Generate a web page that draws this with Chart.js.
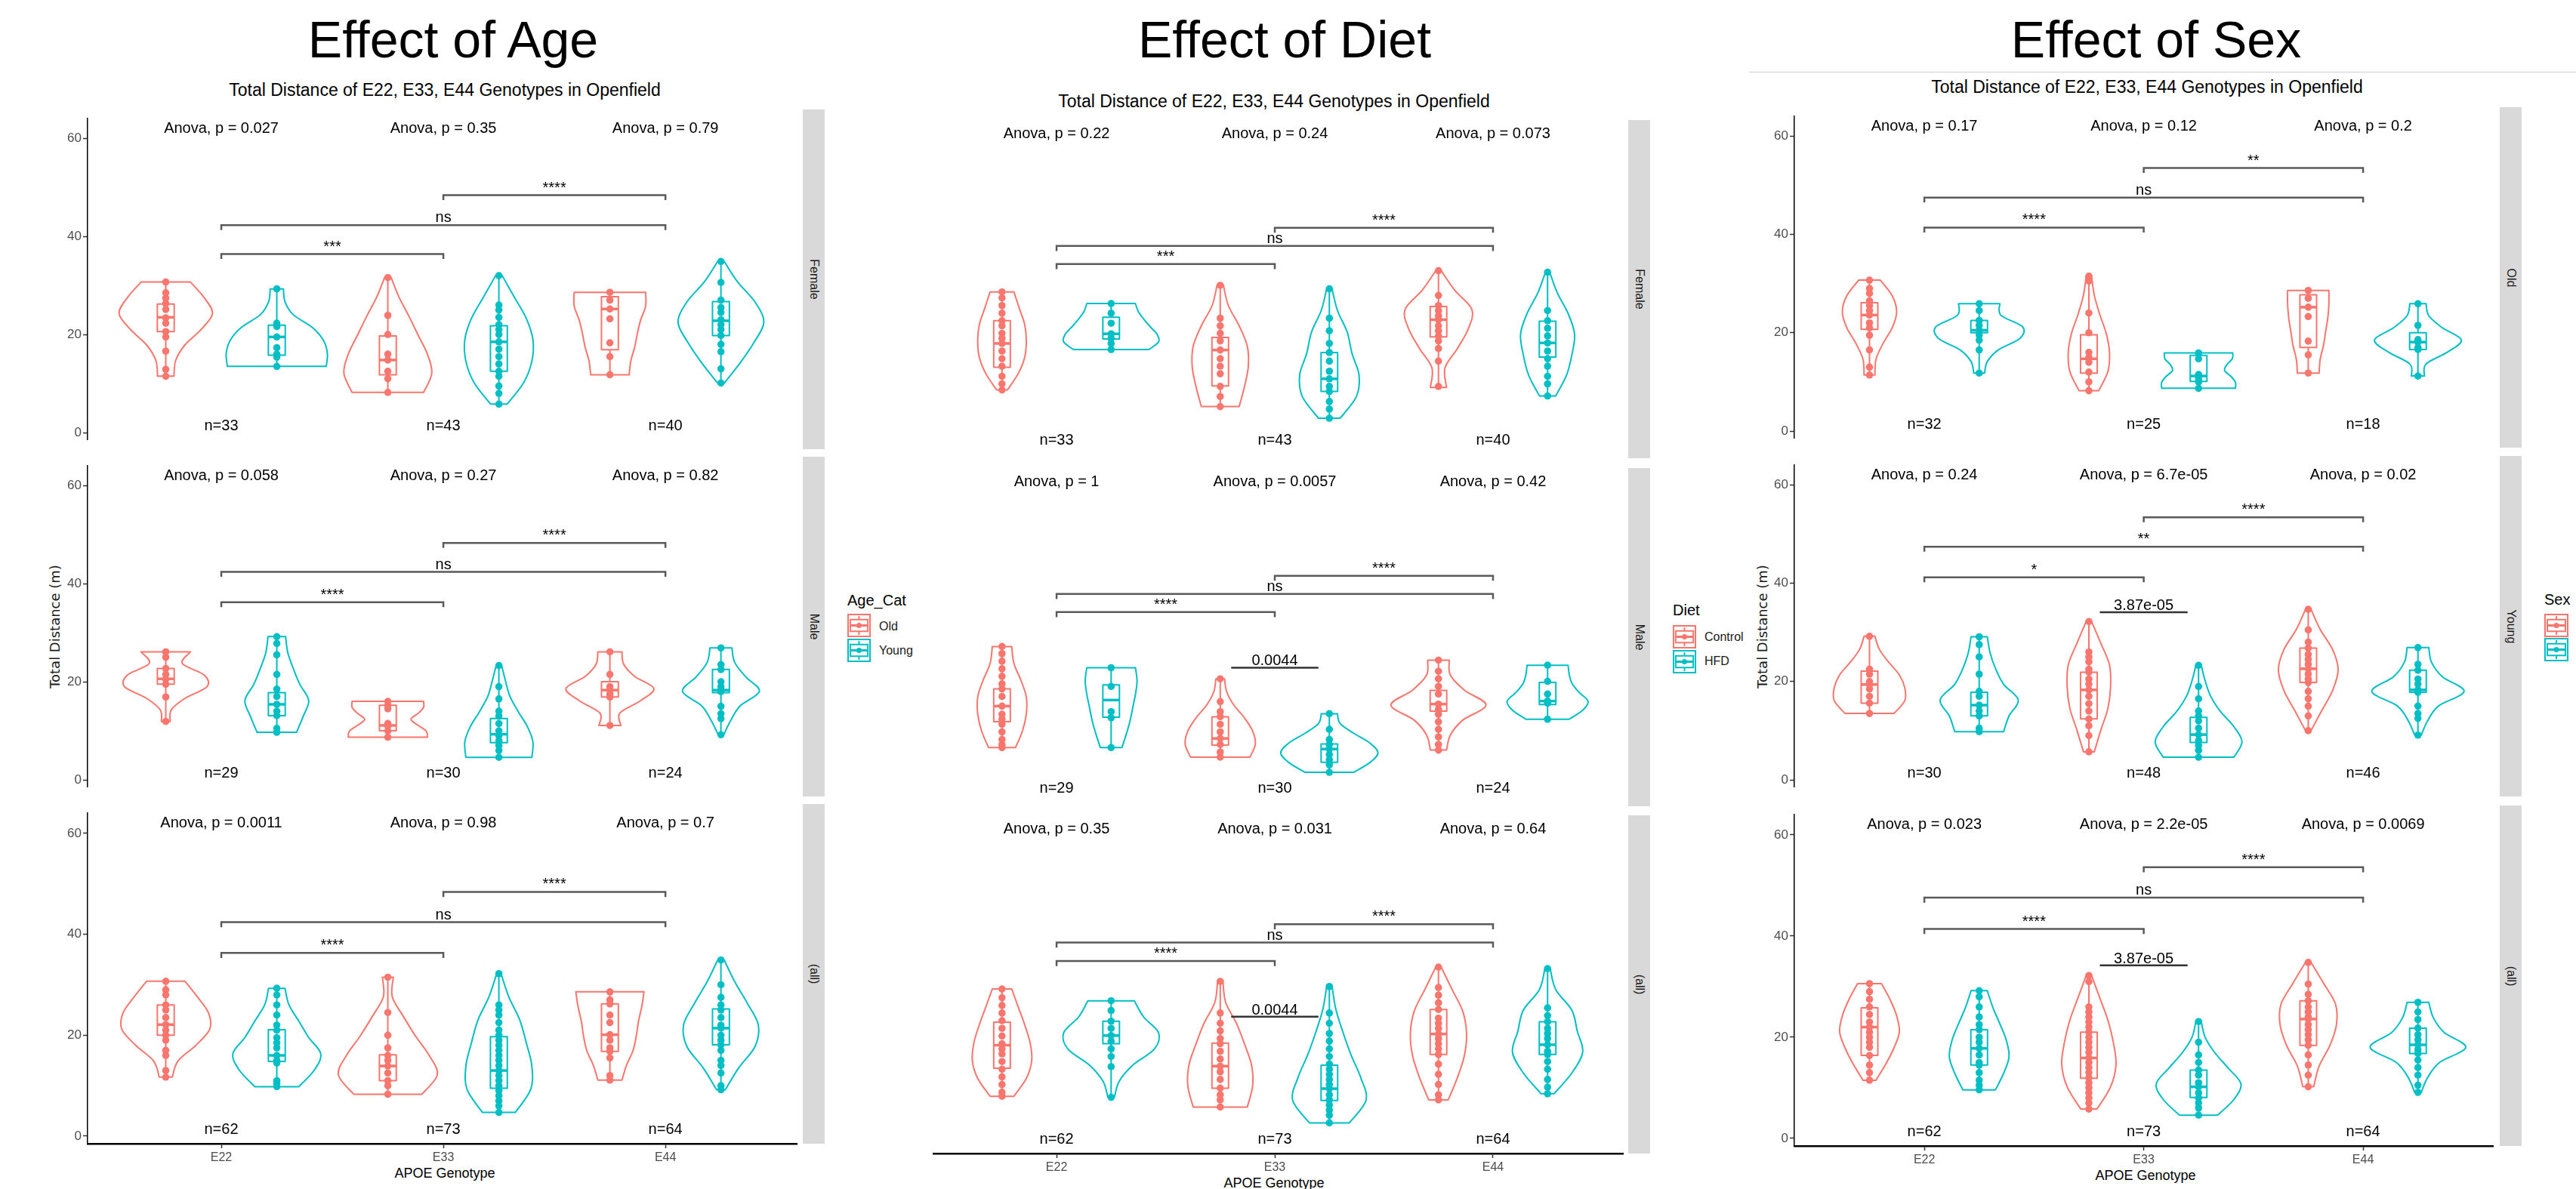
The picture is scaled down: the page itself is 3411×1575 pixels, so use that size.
<!DOCTYPE html>
<html>
<head>
<meta charset="utf-8">
<script src="https://cdn.jsdelivr.net/npm/chart.js@4.4.1/dist/chart.umd.min.js"></script>
<style>
  body { margin: 0; background: #fff; width: 3411px; height: 1575px; overflow: hidden; position: relative;
         font-family: "Liberation Sans", Arial, sans-serif; }
  .t { position: absolute; transform: translate(-50%, -50%); white-space: nowrap; line-height: 1; color: #000; }
  .l { position: absolute; transform: translateY(-50%); white-space: nowrap; line-height: 1; }
  canvas { position: absolute; }
  .strip { position: absolute; background: #d9d9d9; }
  .strip span { position: absolute; left: 50%; top: 50%; transform: translate(-50%, -50%) rotate(90deg);
                font-size: 16px; color: #1a1a1a; white-space: nowrap; }
</style>
</head>
<body>
<script>
// categories
const genotypes = ['E22', 'E33', 'E44'];
const ageGroups = ['Old', 'Young'];
const dietGroups = ['Control', 'HFD'];
const sexGroups = ['Female', 'Male'];
const ageFacets = ['Female', 'Male', '(all)'];
const dietFacets = ['Female', 'Male', '(all)'];
const sexFacets = ['Old', 'Young', '(all)'];
const yTicks = [0, 20, 40, 60];

// boxes: [min, q1, median, q3, max] for E22 a/b, E33 a/b, E44 a/b
// density: violin half width from bottom (min) to top (max)
// ---- Effect of Age ----
const ageFemaleBox = [[11.5,20.6,23.5,26.2,30.7],[13.5,15.8,19.5,21.9,29.3],[8.2,11.8,14.8,19.7,31.6],
                      [5.8,12.5,18.5,21.8,32.0],[11.8,16.9,25.2,27.7,28.6],[10.1,19.8,22.8,26.7,34.9]];
const ageFemaleDensity = [[15,18,35,65,85,70,45],[90,92,85,65,30,15,12],[65,80,72,55,38,20,6],
                          [15,45,60,62,50,28,6],[35,38,45,50,56,65,65],[6,35,60,78,62,30,6]];
const ageFemalePoints = [[30.7,28.5,27.4,26.3,25.1,23.4,22.3,20.6,19.5,16.6,12.9,11.5],
                         [29.3,22.3,21.6,19.5,17.3,16.0,15.4,13.5],
                         [31.6,23.9,20,16,14.8,12.5,11,8.2],
                         [32,26,25,23.5,22,21,20,18.5,17,15.5,14,12.5,11.5,9.5,8,5.8],
                         [28.6,27,25.2,23.2,18.3,15.5,11.8],
                         [34.9,30.6,27,25.5,24.5,23,22,21,19.8,18,16.5,13,10.1]];
const ageFemaleAnova = ['Anova, p = 0.027', 'Anova, p = 0.35', 'Anova, p = 0.79'];
const ageFemaleN = ['n=33', 'n=43', 'n=40'];
const ageFemaleSig = [[1,2,36.4,'***'],[1,3,42.3,'ns'],[2,3,48.4,'****']];

const ageMaleBox = [[11.9,19.5,20.6,22.7,26.1],[9.7,13.1,15.4,17.8,29.2],[8.7,10.0,11.1,15.2,16.0],
                    [4.6,7.6,9.3,12.5,23.3],[11.1,16.9,18.3,20.0,26.1],[9.2,17.8,18.3,22.5,26.9]];
const ageMaleDensity = [[8,10,35,75,70,30,45],[36,48,58,42,30,20,16],[72,70,55,42,55,65,65],
                        [60,62,52,35,20,12,5],[20,18,55,80,45,25,22],[5,18,35,70,45,25,20]];
const ageMalePoints = [[26.1,25,22.7,21.5,20.5,19.5,16.9,11.9],
                       [29.2,27.8,25.5,21.5,18.5,17,15.4,14,13.1,10.5,9.7],
                       [16,15.2,14.5,11.5,11.0,10,8.7],
                       [23.3,19,16.5,14,13,11.5,10,9,8,7,6,4.6],
                       [26.1,21.5,19,18.3,17.5,16.9,11.1],
                       [26.9,23.5,22.5,20,19,18.3,18,15,13.5,12.5,9.2]];
const ageMaleAnova = ['Anova, p = 0.058', 'Anova, p = 0.27', 'Anova, p = 0.82'];
const ageMaleN = ['n=29', 'n=30', 'n=24'];
const ageMaleSig = [[1,2,36.2,'****'],[1,3,42.4,'ns'],[2,3,48.3,'****']];

const ageAllBox = [[11.7,20.0,22.1,26.0,30.7],[9.8,14.8,16.0,21.1,29.3],[8.3,11.0,13.9,16.1,31.5],
                   [4.7,9.5,13.0,19.7,32.2],[11.1,16.8,20.1,26.2,28.6],[9.2,18.1,21.4,25.2,34.9]];
const ageAllDensity = [[12,22,55,80,78,58,35],[40,68,80,58,40,22,15],[62,90,75,50,28,8,10],
                       [30,58,60,50,38,18,4],[22,30,42,48,52,58,62],[8,32,62,68,48,25,6]];
const ageAllPoints = [[30.7,29,28,26,25,23.5,22.1,21,20,19,17,16,13,11.7],
                      [29.3,28,26,24,22,21,19.5,18.5,17.5,16,15,14.5,11,10.5,9.8],
                      [31.5,24.5,20,17.5,16,15,13.9,12.5,11,10,8.3],
                      [32.2,26,25,24,22.5,21,20,19,18,17,16,15,14,13,12,11,10,9,8,7,6,4.7],
                      [28.6,27,26.2,24,22.5,20.1,19,17.5,16.8,15.5,12,11.1],
                      [34.9,30,27.5,26,25,23.5,22,21.4,20,19,18.1,17,15,14,12.5,10,9.2]];
const ageAllAnova = ['Anova, p = 0.0011', 'Anova, p = 0.98', 'Anova, p = 0.7'];
const ageAllN = ['n=62', 'n=73', 'n=64'];
const ageAllSig = [[1,2,36.3,'****'],[1,3,42.4,'ns'],[2,3,48.4,'****']];

// ---- Effect of Diet ----
const dietFemaleBox = [[11.3,15.8,20.5,25.0,30.7],[19.3,21.4,22.4,25.7,28.4],[8.0,12.1,19.2,21.7,32.0],
                       [5.7,11.0,13.5,18.7,31.3],[11.8,21.8,25.2,27.8,34.9],[10.1,17.8,20.6,24.9,34.6]];
const dietFemaleDensity = [[10,30,42,45,42,32,22],[70,88,85,72,60,50,45],[35,45,52,50,35,15,6],
                           [20,50,55,42,33,15,5],[15,12,35,55,62,30,5],[15,35,45,50,38,18,4]];
const dietFemalePoints = [[30.7,29.5,28,26.5,25,24,22.5,21.5,20.5,19,17.5,16,14,12.5,11.3],
                          [28.4,26.5,24.5,22.4,21.5,20.5,19.3],
                          [32,25.5,24,22.5,21,19.2,17.5,16,14.5,12,10,8],
                          [31.3,25.5,23,20.5,18.7,17,15,13.5,12,11,9,7.5,5.7],
                          [34.9,30,28,27,26,25.2,24,23,22,21,19.5,17,12],
                          [34.6,27,25,23.5,22,20.6,19,17.5,16,14,12.5,10.1]];
const dietFemaleAnova = ['Anova, p = 0.22', 'Anova, p = 0.24', 'Anova, p = 0.073'];
const dietFemaleN = ['n=33', 'n=43', 'n=40'];
const dietFemaleSig = [[1,2,36.2,'***'],[1,3,39.8,'ns'],[2,3,43.4,'****']];

const dietMaleBox = [[9.4,14.5,17.6,21.0,29.4],[9.4,15.4,18.8,21.8,25.2],[7.5,9.9,11.2,15.5,23.0],
                     [4.5,6.5,9.1,10.1,16.1],[8.9,16.6,18.0,20.7,26.7],[15.0,17.9,18.6,22.3,25.7]];
const dietMaleDensity = [[25,38,45,45,35,22,18],[20,28,35,40,45,48,45],[55,65,60,45,25,12,8],
                         [45,75,90,75,45,20,15],[15,22,45,88,48,22,20],[40,65,75,58,45,40,38]];
const dietMalePoints = [[29.4,28,26.5,25,23.5,22,21,19.5,17.6,16,15,14,12.5,11,10,9.4],
                        [25.2,21.5,16.5,15.3,9.4],
                        [23,18.5,16.5,15.5,14,12.5,11.2,10,8.5,7.5],
                        [16.1,13,11,10,9.1,8,7,6,4.5],
                        [26.7,24.5,23,21.5,20,18,17,16,14.5,13,11.5,10,8.9],
                        [25.7,22.5,20,18.6,18.2,15]];
const dietMaleAnova = ['Anova, p = 1', 'Anova, p = 0.0057', 'Anova, p = 0.42'];
const dietMaleN = ['n=29', 'n=30', 'n=24'];
const dietMaleSig = [[1,2,36.2,'****'],[1,3,39.8,'ns'],[2,3,43.4,'****']];
const dietMaleP = [2, 25.2, '0.0044'];

const dietAllBox = [[9.7,15.2,19.7,24.2,30.7],[9.5,20.0,21.6,24.4,28.4],[7.6,11.3,15.6,20.1,32.2],
                    [4.5,8.9,11.2,15.8,31.2],[9.0,17.9,21.9,26.7,35.0],[10.2,17.9,19.8,24.3,34.7]];
const dietAllDensity = [[22,45,55,52,42,30,18],[6,15,40,80,88,60,43],[50,60,58,45,30,10,5],
                        [37,68,58,40,25,12,5],[18,35,48,52,45,25,5],[12,45,65,55,45,15,5]];
const dietAllPoints = [[30.7,29,27.5,26,24.5,23,21.5,20,19,18,16.5,15,13.5,12,10.5,9.7],
                       [28.4,26.5,24.4,23,21.6,20.5,19,17.5,15.5,9.5],
                       [32.2,26,24,22.5,21,20,18.5,17,15.6,14.5,13,11.3,10,9,7.6],
                       [31.2,26,24,22,20.5,19,17.5,16,15,14,13,12,11.2,10,9,8,7,6,4.5],
                       [35,31,29.5,28,26.7,25,24,23,21.9,21,20,19,17.9,16,14,12,10,9],
                       [34.7,27,25.5,24.3,23,22,21,19.8,18.5,17.9,16.5,15,13,11.5,10.2]];
const dietAllAnova = ['Anova, p = 0.35', 'Anova, p = 0.031', 'Anova, p = 0.64'];
const dietAllN = ['n=62', 'n=73', 'n=64'];
const dietAllSig = [[1,2,36.2,'****'],[1,3,39.8,'ns'],[2,3,43.4,'****']];
const dietAllP = [2, 25.3, '0.0044'];

// ---- Effect of Sex ----
const sexOldBox = [[11.4,20.7,23.6,26.1,30.7],[11.8,20.0,20.5,22.5,25.9],[8.2,11.8,14.7,19.6,31.5],
                   [8.7,10.1,11.2,15.4,15.9],[11.8,17.0,25.2,27.7,28.6],[11.2,16.6,18.1,20.0,25.9]];
const sexOldDensity = [[10,12,25,42,50,42,20],[10,15,35,75,80,40,38],[18,35,38,32,20,10,5],
                       [68,68,60,48,52,62,63],[20,22,28,32,36,38,38],[12,15,55,80,45,20,15]];
const sexOldPoints = [[30.7,29,28,26.5,25.5,24.5,23.6,22,21,19.5,16.5,13,11.4],
                      [25.9,24.5,22.5,21.5,20.5,19.5,18.5,16.5,11.8],
                      [31.5,30.5,24,20,16,15,14,12,10,8.2],
                      [15.9,14.7,11.5,10.6,10,8.7],
                      [28.6,27,25.2,23.3,18.3,15.5,11.8],
                      [25.9,21.5,18.6,18.1,17,16.6,11.2]];
const sexOldAnova = ['Anova, p = 0.17', 'Anova, p = 0.12', 'Anova, p = 0.2'];
const sexOldN = ['n=32', 'n=25', 'n=18'];
const sexOldSig = [[1,2,41.4,'****'],[1,3,47.5,'ns'],[2,3,53.5,'**']];

const sexYoungBox = [[13.5,15.6,19.4,22.1,29.2],[9.8,13.0,15.2,17.8,29.1],[5.7,12.4,18.3,21.9,32.2],
                     [4.6,7.6,9.2,12.7,23.3],[10.0,19.8,22.6,26.8,34.7],[9.1,17.8,18.3,22.3,26.9]];
const sexYoungDensity = [[45,65,65,55,35,18,10],[45,55,72,45,30,20,15],[10,22,35,40,38,22,5],
                         [65,80,65,40,22,12,5],[5,25,45,55,45,22,5],[6,18,38,85,45,25,20]];
const sexYoungPoints = [[29.2,22.5,21.5,20,19.4,18.5,17,15.6,13.5],
                        [29.1,27.5,25,21.5,18,17,15.2,14,13,10.5,9.8],
                        [32.2,26,25,24,22.5,21.9,20.5,19.5,18.3,17,15.5,14,12.4,11,9,5.7],
                        [23.3,19,16.5,14,13,12,10.5,9.2,8,7,6,4.6],
                        [34.7,30.5,28,26.8,25.5,24.5,23.5,22.6,21.5,20.5,19.8,18,16.5,15,13,10],
                        [26.9,23.5,22.3,20.5,19.5,18.3,17.8,15,13.5,12.5,9.1]];
const sexYoungAnova = ['Anova, p = 0.24', 'Anova, p = 6.7e-05', 'Anova, p = 0.02'];
const sexYoungN = ['n=30', 'n=48', 'n=46'];
const sexYoungSig = [[1,2,41.2,'*'],[1,3,47.4,'**'],[2,3,53.4,'****']];
const sexYoungP = [2, 34.1, '3.87e-05'];

const sexAllBox = [[11.5,16.4,22.0,25.8,30.6],[9.6,14.5,17.8,21.5,29.2],[5.8,11.9,15.9,21.0,32.2],
                   [4.6,8.1,10.2,13.5,23.1],[10.2,18.4,23.6,27.2,34.8],[9.1,16.8,18.5,21.8,26.9]];
const sexAllDensity = [[12,30,45,55,50,38,22],[30,45,55,50,38,25,15],[15,40,50,45,35,20,5],
                       [35,65,78,55,30,12,5],[10,20,40,52,50,28,5],[6,18,40,88,48,28,20]];
const sexAllPoints = [[30.6,29,27.5,26,24.5,23,22,21,20,19,18,16.4,14.5,13,11.5],
                      [29.2,28,26,24,22.5,21.5,20,19,17.8,16.5,15,14.5,13,11.5,10.5,9.6],
                      [32.2,31,26,25,24,23,22,21,20,19,18,17,15.9,15,14,13,12,11,10,9,8,7,5.8],
                      [23.1,19,16.5,15,13.5,12.5,11,10.2,9,8,7,6,4.6],
                      [34.8,30.5,28.5,27.2,26,25,24,23.6,22.5,21.5,20.5,19.5,18.4,16.5,14.5,12.5,10.2],
                      [26.9,25,23.5,21.8,20.5,19.5,18.5,17.5,16.8,15.5,14,12.5,10.5,9.1]];
const sexAllAnova = ['Anova, p = 0.023', 'Anova, p = 2.2e-05', 'Anova, p = 0.0069'];
const sexAllN = ['n=62', 'n=73', 'n=64'];
const sexAllSig = [[1,2,41.4,'****'],[1,3,47.6,'ns'],[2,3,53.6,'****']];
const sexAllP = [2, 34.2, '3.87e-05'];

// styling / layout
const colors = ['#F8766D', '#00BFC4'];
const FONT = '"Liberation Sans", Arial, sans-serif';
const dodge = 0.25, boxHalf = 0.038, densityScale = 1 / 404;

const panels = [
  { title: 'Effect of Age', groups: ageGroups, legendTitle: 'Age_Cat', strips: ageFacets,
    plotL: 116, plotR: 1060, yAxis: true, xMin: 0.398, xMax: 3.592,
    tops: [145, 605, 1065], h: 450, stripX: 1063,
    titleX: 600, subX: 589, subY: 119, xTitleX: 589, xTitleY: 1554, yTitleX: 73,
    legX: 1122, legTitleY: 795, keyY: [813, 846], keyW: 31, keyH: 31, labY: [830, 862], labX: 1164,
    facets: [
      { box: ageFemaleBox, dens: ageFemaleDensity, pts: ageFemalePoints, anova: ageFemaleAnova, n: ageFemaleN, sig: ageFemaleSig },
      { box: ageMaleBox, dens: ageMaleDensity, pts: ageMalePoints, anova: ageMaleAnova, n: ageMaleN, sig: ageMaleSig },
      { box: ageAllBox, dens: ageAllDensity, pts: ageAllPoints, anova: ageAllAnova, n: ageAllN, sig: ageAllSig }] },
  { title: 'Effect of Diet', groups: dietGroups, legendTitle: 'Diet', strips: dietFacets,
    plotL: 1231, plotR: 2154, yAxis: false, xMin: 0.435, xMax: 3.596,
    tops: [159, 620, 1080], h: 448, stripX: 2156,
    titleX: 1701, subX: 1687, subY: 134, xTitleX: 1687, xTitleY: 1567, yTitleX: null,
    legX: 2215, legTitleY: 808, keyY: [828, 861], keyW: 31, keyH: 31, labY: [844, 876], labX: 2257,
    facets: [
      { box: dietFemaleBox, dens: dietFemaleDensity, pts: dietFemalePoints, anova: dietFemaleAnova, n: dietFemaleN, sig: dietFemaleSig },
      { box: dietMaleBox, dens: dietMaleDensity, pts: dietMalePoints, anova: dietMaleAnova, n: dietMaleN, sig: dietMaleSig, p: dietMaleP },
      { box: dietAllBox, dens: dietAllDensity, pts: dietAllPoints, anova: dietAllAnova, n: dietAllN, sig: dietAllSig, p: dietAllP }] },
  { title: 'Effect of Sex', groups: sexGroups, legendTitle: 'Sex', strips: sexFacets,
    plotL: 2376, plotR: 3306, yAxis: true, xMin: 0.4075, xMax: 3.5925,
    tops: [142, 604, 1067], h: 451, stripX: 3310,
    titleX: 2855, subX: 2843, subY: 115, xTitleX: 2841, xTitleY: 1557, yTitleX: 2334,
    legX: 3369, legTitleY: 794, keyY: [813, 845], keyW: 32, keyH: 31, labY: null, labX: 3412,
    facets: [
      { box: sexOldBox, dens: sexOldDensity, pts: sexOldPoints, anova: sexOldAnova, n: sexOldN, sig: sexOldSig },
      { box: sexYoungBox, dens: sexYoungDensity, pts: sexYoungPoints, anova: sexYoungAnova, n: sexYoungN, sig: sexYoungSig, p: sexYoungP },
      { box: sexAllBox, dens: sexAllDensity, pts: sexAllPoints, anova: sexAllAnova, n: sexAllN, sig: sexAllSig, p: sexAllP }] }
];

function groupX(i) { return Math.floor(i / 2) + 1 + (i % 2 ? dodge : -dodge); }

function spline(ctx, p) {
  for (let i = 0; i < p.length - 1; i++) {
    const p0 = p[Math.max(i - 1, 0)], p1 = p[i], p2 = p[i + 1], p3 = p[Math.min(i + 2, p.length - 1)];
    ctx.bezierCurveTo(p1[0] + (p2[0] - p0[0]) / 6, p1[1] + (p2[1] - p0[1]) / 6,
                      p2[0] - (p3[0] - p1[0]) / 6, p2[1] - (p3[1] - p1[1]) / 6, p2[0], p2[1]);
  }
}

function violinPath(ctx, xs, ys, cx, box, dens) {
  const lo = box[0], hi = box[4], k = dens.length - 1;
  const c = xs.getPixelForValue(cx);
  const right = dens.map((d, i) => [xs.getPixelForValue(cx + d * densityScale), ys.getPixelForValue(lo + (hi - lo) * i / k)]);
  const left = right.map(p => [2 * c - p[0], p[1]]).reverse();
  ctx.beginPath();
  ctx.moveTo(right[0][0], right[0][1]);
  spline(ctx, right);
  ctx.lineTo(left[0][0], left[0][1]);
  spline(ctx, left);
  ctx.closePath();
}

function facetPlugin(fd) {
  return {
    id: 'facetDraw',
    beforeDatasetsDraw(chart) {
      const ctx = chart.ctx, x = chart.scales.x, y = chart.scales.y;
      ctx.save();
      fd.box.forEach((b, i) => {
        const cx = groupX(i);
        ctx.strokeStyle = colors[i % 2];
        ctx.lineWidth = 2;
        ctx.lineJoin = 'round';
        violinPath(ctx, x, y, cx, b, fd.dens[i]);
        ctx.stroke();
        const xl = x.getPixelForValue(cx - boxHalf), xr = x.getPixelForValue(cx + boxHalf), xc = x.getPixelForValue(cx);
        const [lo, q1, med, q3, hi] = b.map(v => y.getPixelForValue(v));
        ctx.beginPath();
        ctx.moveTo(xc, lo); ctx.lineTo(xc, q1);
        ctx.moveTo(xc, q3); ctx.lineTo(xc, hi);
        ctx.stroke();
        ctx.fillStyle = '#fff';
        ctx.fillRect(xl, q3, xr - xl, q1 - q3);
        ctx.strokeRect(xl, q3, xr - xl, q1 - q3);
        ctx.lineWidth = 3.5;
        ctx.beginPath(); ctx.moveTo(xl, med); ctx.lineTo(xr, med); ctx.stroke();
      });
      ctx.restore();
    },
    afterDatasetsDraw(chart) {
      const ctx = chart.ctx, x = chart.scales.x, y = chart.scales.y;
      ctx.save();
      ctx.font = '20px ' + FONT;
      ctx.fillStyle = '#000';
      ctx.textAlign = 'center';
      ctx.textBaseline = 'middle';
      fd.anova.forEach((t, i) => ctx.fillText(t, x.getPixelForValue(i + 1), y.getPixelForValue(62)));
      fd.n.forEach((t, i) => ctx.fillText(t, x.getPixelForValue(i + 1), y.getPixelForValue(1.3)));
      ctx.strokeStyle = '#5a5a5a';
      ctx.lineWidth = 2.5;
      ctx.textBaseline = 'alphabetic';
      fd.sig.forEach(([a, b, v, lab]) => {
        const xa = x.getPixelForValue(a), xb = x.getPixelForValue(b);
        const yv = y.getPixelForValue(v), yt = y.getPixelForValue(v - 1);
        ctx.beginPath();
        ctx.moveTo(xa, yt); ctx.lineTo(xa, yv); ctx.lineTo(xb, yv); ctx.lineTo(xb, yt);
        ctx.stroke();
        ctx.fillText(lab, (xa + xb) / 2, yv - 4);
      });
      if (fd.p) {
        const [c, v, lab] = fd.p;
        const yv = y.getPixelForValue(v);
        ctx.strokeStyle = '#333';
        ctx.beginPath();
        ctx.moveTo(x.getPixelForValue(c - 0.2), yv); ctx.lineTo(x.getPixelForValue(c + 0.2), yv);
        ctx.stroke();
        ctx.fillText(lab, x.getPixelForValue(c), yv - 3);
      }
      ctx.restore();
    }
  };
}

function addText(txt, x, y, size, extra) {
  const d = document.createElement('div');
  d.className = 't';
  d.textContent = txt;
  d.style.left = x + 'px';
  d.style.top = y + 'px';
  d.style.fontSize = size + 'px';
  if (extra) Object.assign(d.style, extra);
  document.body.appendChild(d);
  return d;
}

function keySvg(col, w, h) {
  const s = 'stroke="' + col + '" stroke-width="2" fill="none"';
  return '<svg width="' + w + '" height="' + h + '" xmlns="http://www.w3.org/2000/svg">' +
    '<rect x="1" y="1" width="' + (w - 2) + '" height="' + (h - 2) + '" ' + s + '/>' +
    '<line x1="' + w / 2 + '" y1="' + h * 0.1 + '" x2="' + w / 2 + '" y2="' + h * 0.25 + '" ' + s + '/>' +
    '<line x1="' + w / 2 + '" y1="' + h * 0.75 + '" x2="' + w / 2 + '" y2="' + h * 0.9 + '" ' + s + '/>' +
    '<rect x="' + w * 0.125 + '" y="' + h * 0.25 + '" width="' + w * 0.75 + '" height="' + h * 0.5 + '" ' + s + '/>' +
    '<line x1="' + w * 0.125 + '" y1="' + h / 2 + '" x2="' + w * 0.875 + '" y2="' + h / 2 + '" stroke="' + col + '" stroke-width="3"/>' +
    '<circle cx="' + w / 2 + '" cy="' + h / 2 + '" r="3.5" fill="' + col + '"/></svg>';
}

panels.forEach(P => {
  // titles
  addText(P.title, P.titleX, 51.5, 68);
  addText('Total Distance of E22, E33, E44 Genotypes in Openfield', P.subX, P.subY, 23);
  addText('APOE Genotype', P.xTitleX, P.xTitleY, 18);
  if (P.yTitleX) addText('Total Distance (m)', P.yTitleX, 830, 18,
    { transform: 'translate(-50%, -50%) rotate(-90deg)', fontFamily: '"DejaVu Sans", sans-serif', color: '#1a1a1a' });

  // legend
  const lt = document.createElement('div');
  lt.className = 'l';
  lt.textContent = P.legendTitle;
  Object.assign(lt.style, { left: P.legX + 'px', top: P.legTitleY + 'px', fontSize: '20px' });
  document.body.appendChild(lt);
  P.groups.forEach((g, i) => {
    const k = document.createElement('div');
    k.style.position = 'absolute';
    k.style.left = P.legX + 'px';
    k.style.top = P.keyY[i] + 'px';
    k.innerHTML = keySvg(colors[i], P.keyW, P.keyH);
    document.body.appendChild(k);
    if (P.labY) {
      const lb = document.createElement('div');
      lb.className = 'l';
      lb.textContent = g;
      Object.assign(lb.style, { left: P.labX + 'px', top: P.labY[i] + 'px', fontSize: '16px', color: '#1a1a1a' });
      document.body.appendChild(lb);
    }
  });

  P.facets.forEach((fd, f) => {
    const bottom = f === 2;
    const yW = P.yAxis ? 50 : 0, xH = bottom ? 40 : 0;
    const cv = document.createElement('canvas');
    const w = P.plotR - P.plotL + yW, h = P.h + xH;
    cv.width = w; cv.height = h;
    Object.assign(cv.style, { left: (P.plotL - yW) + 'px', top: P.tops[f] + 'px', width: w + 'px', height: h + 'px' });
    document.body.appendChild(cv);

    // strip
    const st = document.createElement('div');
    st.className = 'strip';
    Object.assign(st.style, { left: P.stripX + 'px', top: P.tops[f] + 'px', width: '29px', height: P.h + 'px' });
    st.innerHTML = '<span>' + P.strips[f] + '</span>';
    document.body.appendChild(st);

    new Chart(cv, {
      type: 'scatter',
      data: {
        datasets: fd.pts.map((vals, i) => ({
          label: genotypes[Math.floor(i / 2)] + ' ' + P.groups[i % 2],
          data: vals.map(v => ({ x: groupX(i), y: v })),
          backgroundColor: colors[i % 2],
          borderColor: colors[i % 2],
          borderWidth: 0,
          pointRadius: 4.8,
          pointHoverRadius: 4.8
        }))
      },
      options: {
        responsive: false,
        animation: false,
        events: [],
        layout: { padding: 0 },
        plugins: { legend: { display: false }, tooltip: { enabled: false } },
        scales: {
          x: {
            type: 'linear', min: P.xMin, max: P.xMax, display: bottom,
            afterBuildTicks: s => { s.ticks = [1, 2, 3].map(v => ({ value: v })); },
            afterFit: s => { s.height = xH; },
            ticks: { callback: v => genotypes[v - 1], color: '#4d4d4d', font: { size: 16, family: FONT },
                     padding: 3, maxRotation: 0, autoSkip: false },
            grid: { display: true, drawOnChartArea: false, drawTicks: true, tickLength: 6, tickColor: '#333', tickWidth: 1.5 },
            border: { display: true, color: '#000', width: 2.5 }
          },
          y: {
            type: 'linear', min: -1.5, max: 64, display: P.yAxis,
            afterBuildTicks: s => { s.ticks = yTicks.map(v => ({ value: v })); },
            afterFit: s => { s.width = yW; },
            ticks: { color: '#4d4d4d', font: { size: 17, family: FONT }, padding: 2 },
            grid: { display: true, drawOnChartArea: false, drawTicks: true, tickLength: 6, tickColor: '#333', tickWidth: 1.5 },
            border: { display: true, color: '#000', width: 1.5 }
          }
        }
      },
      plugins: [facetPlugin(fd)]
    });
  });
});

// thin rule under the third title
const rule = document.createElement('div');
Object.assign(rule.style, { position: 'absolute', left: '2316px', top: '95px', width: '1095px', height: '1px', background: '#cfcfcf' });
document.body.appendChild(rule);
</script>
</body>
</html>
